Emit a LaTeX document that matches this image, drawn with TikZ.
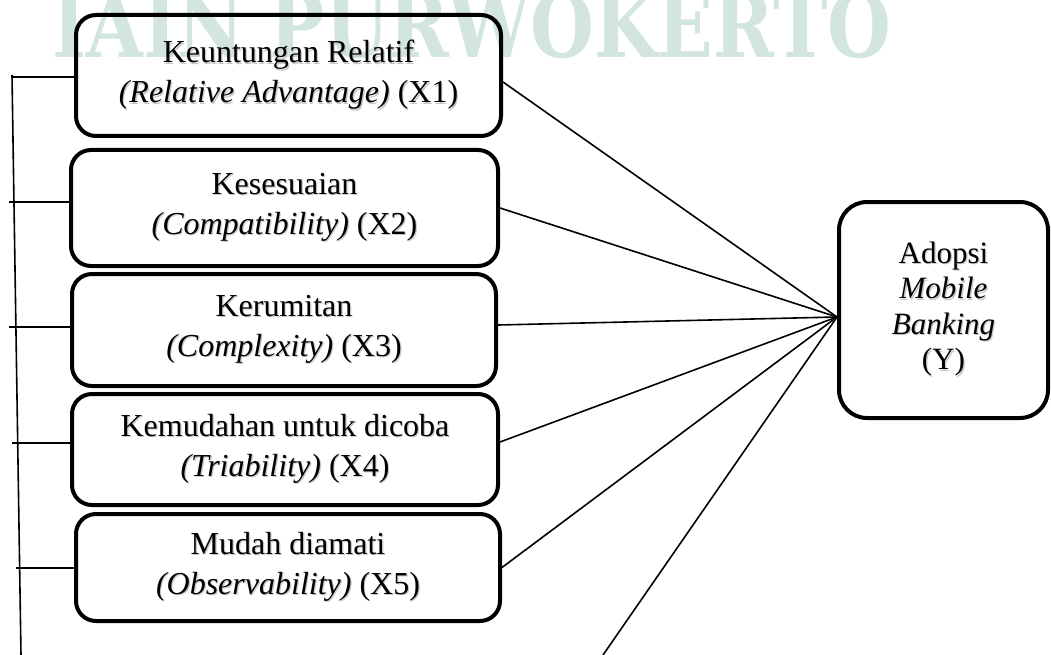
\documentclass[tikz,border=0pt]{standalone}
\usepackage{fontspec}
\setmainfont{Liberation Serif}
\newfontfamily\wmfont{DejaVu Serif}
\usepackage{graphicx}
\usetikzlibrary{calc}
\definecolor{wmcol}{HTML}{D2E5DE}
\newcommand\shd[1]{\leavevmode\rlap{\kern1.2pt\raisebox{-1.5pt}{\textcolor{black!22}{#1}}}#1}
\begin{document}
\begin{tikzpicture}[x=1pt,y=-1pt,
  var/.style={draw, line width=4pt, rounded corners=20pt, align=center, inner sep=0pt,
    font=\fontsize{32}{40}\selectfont},
  dep/.style={draw, line width=4pt, rounded corners=28pt, align=center, inner sep=0pt,
    font=\fontsize{31}{35.5}\selectfont},
  link/.style={line width=1.6pt}]
\useasboundingbox (0,0) rectangle (1051,655);
% watermark
\node[anchor=base west, inner sep=0pt, text=wmcol, font=\wmfont\bfseries\fontsize{88}{88}\selectfont]
  (wm) at (52,58) {\scalebox{0.832}[1]{IAIN PURWOKERTO}};
% boxes
\node[var, minimum width=425pt, minimum height=121pt] (X1) at (288.5,75.5)
  {\shd{Keuntungan Relatif}\\\shd{\textit{(Relative Advantage)} (X1)}};
\node[var, minimum width=427pt, minimum height=116pt] (X2) at (284.5,208)
  {\shd{Kesesuaian}\\\shd{\textit{(Compatibility)} (X2)}};
\node[var, minimum width=424pt, minimum height=112pt] (X3) at (284,330)
  {\shd{Kerumitan}\\\shd{\textit{(Complexity)} (X3)}};
\node[var, minimum width=426pt, minimum height=111pt] (X4) at (285,449.5)
  {\shd{Kemudahan untuk dicoba}\\\shd{\textit{(Triability)} (X4)}};
\node[var, minimum width=424pt, minimum height=107pt] (X5) at (288,567.5)
  {\shd{Mudah diamati}\\\shd{\textit{(Observability)} (X5)}};
\node[dep, minimum width=209pt, minimum height=216pt] (Y) at (943.5,310)
  {\shd{Adopsi}\\\shd{\textit{Mobile}}\\\shd{\textit{Banking}}\\\shd{(Y)}};
% connectors to Y
\coordinate (c) at ([yshift=-7pt]Y.west);
\coordinate (b) at (603,655);
\draw[link] ([yshift=-6.5pt]X1.east) -- (c);
\draw[link] (X2.east) -- (c);
\draw[link] ([yshift=5pt]X3.east) -- (c);
\draw[link] ([yshift=7.5pt]X4.east) -- (c);
\draw[link] (X5.east) -- (c);
\draw[link] (b) -- (c);
% left bracket
\coordinate (top) at (12,75);
\coordinate (bot) at (21,655);
\draw[link] (top) -- (bot);
\coordinate (l1) at (13,77);
\coordinate (l2) at (9,202);
\coordinate (l3) at (9,327);
\coordinate (l4) at (12,443);
\coordinate (l5) at (16,568);
\draw[link] (l1) -- (l1 -| X1.west);
\draw[link] (l2) -- (l2 -| X2.west);
\draw[link] (l3) -- (l3 -| X3.west);
\draw[link] (l4) -- (l4 -| X4.west);
\draw[link] (l5) -- (l5 -| X5.west);
\end{tikzpicture}
\end{document}
